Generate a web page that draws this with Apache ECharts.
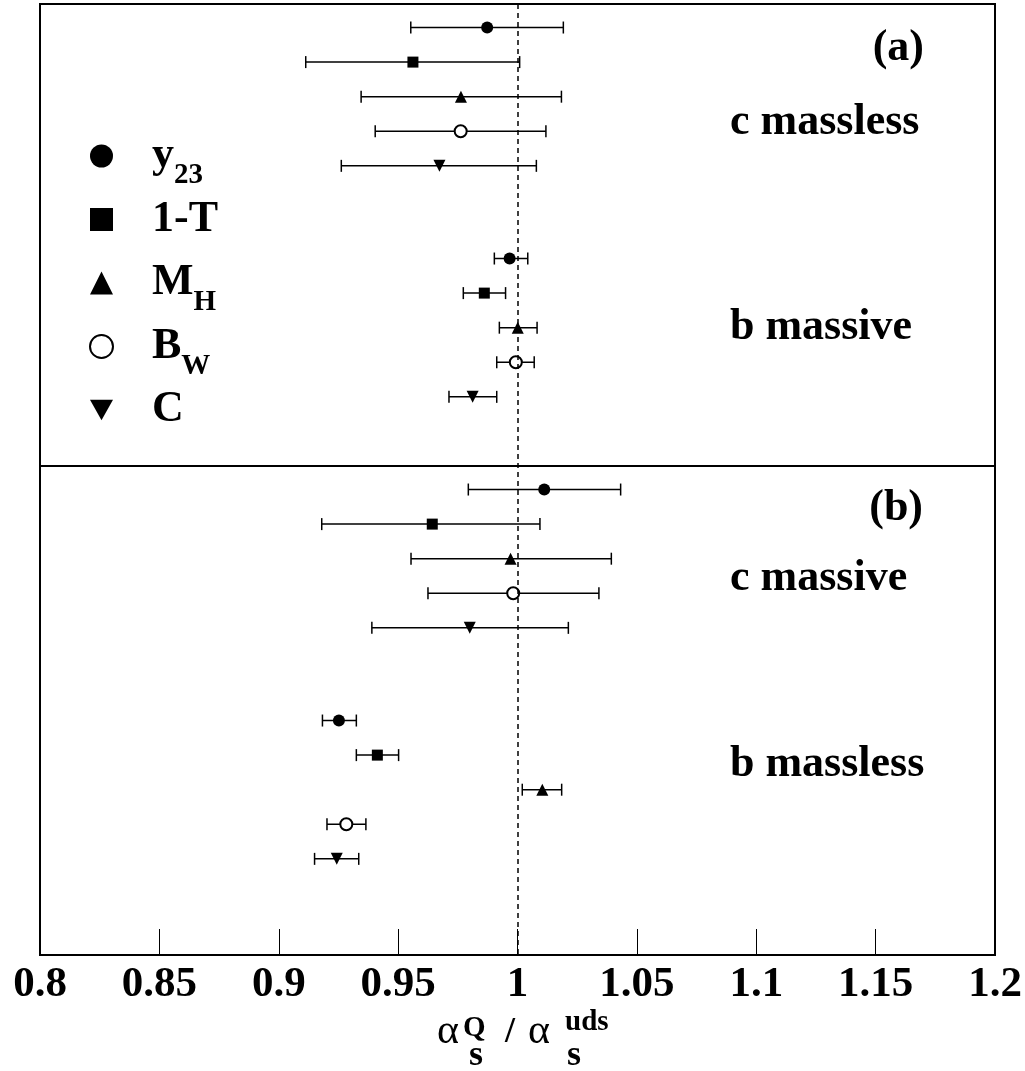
<!DOCTYPE html>
<html>
<head>
<meta charset="utf-8">
<script src="https://cdn.jsdelivr.net/npm/echarts@6/dist/echarts.min.js"></script>
<style>
  html, body { margin: 0; padding: 0; background: #fff; }
  #chart { width: 1025px; height: 1071px; }
</style>
</head>
<body>
<div id="chart"></div>
<script>
// methods, top to bottom inside every group
const methods = ['y23', '1-T', 'M_H', 'B_W', 'C'];
// groups, top to bottom: (a) c massless, (a) b massive, (b) c massive, (b) b massless
const groups = ['c massless', 'b massive', 'c massive', 'b massless'];

// central values, one per group
const y23Val = [0.9873, 0.9967, 1.0112, 0.9252];
const oneTVal = [0.9562, 0.9861, 0.9643, 0.9413];
const mhVal = [0.9763, 1.0001, 0.9971, 1.0104];
const bwVal = [0.9762, 0.9993, 0.9982, 0.9283];
const cVal = [0.9673, 0.9812, 0.9800, 0.9243];

// lower ends of error bars
const y23Lo = [0.9553, 0.9903, 0.9794, 0.9183];
const oneTLo = [0.9113, 0.9773, 0.9180, 0.9325];
const mhLo = [0.9345, 0.9924, 0.9554, 1.0020];
const bwLo = [0.9404, 0.9913, 0.9625, 0.9202];
const cLo = [0.9262, 0.9713, 0.9390, 0.9150];

// upper ends of error bars
const y23Hi = [1.0192, 1.0043, 1.0432, 0.9325];
const oneTHi = [1.0009, 0.9950, 1.0094, 0.9502];
const mhHi = [1.0184, 1.0082, 1.0393, 1.0185];
const bwHi = [1.0119, 1.0070, 1.0341, 0.9365];
const cHi = [1.0079, 0.9913, 1.0213, 0.9335];

const xTicks = [0.8, 0.85, 0.9, 0.95, 1, 1.05, 1.1, 1.15, 1.2];

const vals = [y23Val, oneTVal, mhVal, bwVal, cVal];
const los = [y23Lo, oneTLo, mhLo, bwLo, cLo];
const his = [y23Hi, oneTHi, mhHi, bwHi, cHi];
const symbols = ['circle', 'rect', 'triangle', 'emptyCircle', 'triangle'];
const rotates = [0, 0, 0, 0, 180];
const sizes = [12, 11, 12, 12, 12];

// row position on the (hidden) y axis
const groupStep = 6.68;
const firstRow = 0.68;
function rowPos(g, m) { return firstRow + g * groupStep + m; }

const FONT = '"Liberation Serif", "Times New Roman", serif';

const errData = [];
methods.forEach((m, mi) => {
  groups.forEach((g, gi) => {
    errData.push([los[mi][gi], his[mi][gi], rowPos(gi, mi)]);
  });
});

function renderErr(params, api) {
  const a = api.coord([api.value(0), api.value(2)]);
  const b = api.coord([api.value(1), api.value(2)]);
  const h = 6;
  const st = { stroke: '#000', lineWidth: 1.5 };
  return {
    type: 'group',
    children: [
      { type: 'line', shape: { x1: a[0], y1: a[1], x2: b[0], y2: b[1] }, style: st },
      { type: 'line', shape: { x1: a[0], y1: a[1] - h, x2: a[0], y2: a[1] + h }, style: st },
      { type: 'line', shape: { x1: b[0], y1: b[1] - h, x2: b[0], y2: b[1] + h }, style: st }
    ]
  };
}

const series = [{
  type: 'custom',
  name: 'err',
  renderItem: renderErr,
  data: errData,
  encode: { x: [0, 1], y: 2 },
  silent: true,
  z: 1,
  markLine: {
    silent: true,
    symbol: 'none',
    label: { show: false },
    data: [
      { xAxis: 1, lineStyle: { type: [5, 4], width: 1.5, color: '#000' } },
      { yAxis: 2 * groupStep, lineStyle: { type: 'solid', width: 2, color: '#000' } }
    ]
  }
}];

methods.forEach((m, mi) => {
  series.push({
    type: 'scatter',
    name: m,
    symbol: symbols[mi],
    symbolRotate: rotates[mi],
    symbolSize: sizes[mi],
    itemStyle: { color: '#000', borderColor: '#000', borderWidth: mi === 3 ? 1.5 : 0, opacity: 1 },
    z: 3,
    data: groups.map((g, gi) => [vals[mi][gi], rowPos(gi, mi)])
  });
});

const legendText = {
  'y23': '{m|y}{s|23}',
  '1-T': '{m|1-T}',
  'M_H': '{m|M}{s|H}',
  'B_W': '{m|B}{s|W}',
  'C': '{m|C}'
};

const legendData = methods.map((m, mi) => mi === 4
  ? { name: m, icon: 'path://M0,0 L10,0 L5,9 Z' }
  : { name: m });

const chart = echarts.init(document.getElementById('chart'));
chart.setOption({
  animation: false,
  backgroundColor: '#fff',
  grid: {
    left: 40, right: 30, top: 4, bottom: 116,
    show: true, borderColor: '#000', borderWidth: 2, backgroundColor: 'transparent'
  },
  xAxis: {
    type: 'value',
    min: 0.8, max: 1.2, interval: 0.05,
    axisLine: { show: true, onZero: false, lineStyle: { color: '#000', width: 2 } },
    axisTick: { show: true, inside: true, length: 26, lineStyle: { color: '#000', width: 1 } },
    splitLine: { show: false },
    axisLabel: {
      color: '#000', fontFamily: FONT, fontWeight: 'bold', fontSize: 43, margin: 8,
      formatter: v => String(xTicks.find(t => Math.abs(t - v) < 1e-9) ?? v)
    }
  },
  yAxis: {
    type: 'value', min: 0, max: 27.5, inverse: true, show: false
  },
  legend: {
    data: legendData,
    orient: 'vertical',
    left: 84, top: 116,
    itemWidth: 23, itemHeight: 23, itemGap: -6.5,
    selectedMode: false,
    formatter: name => legendText[name],
    itemStyle: { opacity: 1 },
    textStyle: {
      color: '#000',
      rich: {
        m: { fontFamily: FONT, fontWeight: 'bold', fontSize: 44, lineHeight: 44, padding: [13, 0, 13, 34], color: '#000' },
        s: { fontFamily: FONT, fontWeight: 'bold', fontSize: 29, lineHeight: 29, padding: [40, 0, 0, 0], color: '#000' }
      }
    }
  },
  graphic: [
    { type: 'text', right: 1025 - 924, top: 49 - 22, style: { text: '(a)', font: 'bold 44px ' + FONT, fill: '#000' } },
    { type: 'text', x: 730, y: 123, style: { text: 'c massless', font: 'bold 44px ' + FONT, fill: '#000', verticalAlign: 'middle' } },
    { type: 'text', x: 730, y: 328, style: { text: 'b massive', font: 'bold 44px ' + FONT, fill: '#000', verticalAlign: 'middle' } },
    { type: 'text', right: 1025 - 923, top: 509 - 22, style: { text: '(b)', font: 'bold 44px ' + FONT, fill: '#000' } },
    { type: 'text', x: 730, y: 579, style: { text: 'c massive', font: 'bold 44px ' + FONT, fill: '#000', verticalAlign: 'middle' } },
    { type: 'text', x: 730, y: 765, style: { text: 'b massless', font: 'bold 44px ' + FONT, fill: '#000', verticalAlign: 'middle' } },
    // axis title: alpha_s^Q / alpha_s^uds
    { type: 'text', x: 437, y: 1032, style: { text: 'α', font: '42px ' + FONT, fill: '#000', verticalAlign: 'middle' } },
    { type: 'text', x: 463, y: 1029, style: { text: 'Q', font: 'bold 29px ' + FONT, fill: '#000', verticalAlign: 'middle' } },
    { type: 'text', x: 469, y: 1056, style: { text: 's', font: 'bold 36px ' + FONT, fill: '#000', verticalAlign: 'middle' } },
    { type: 'text', x: 505, y: 1033, style: { text: '/', font: 'bold 36px ' + FONT, fill: '#000', verticalAlign: 'middle' } },
    { type: 'text', x: 528, y: 1032, style: { text: 'α', font: '42px ' + FONT, fill: '#000', verticalAlign: 'middle' } },
    { type: 'text', x: 565, y: 1023, style: { text: 'uds', font: 'bold 29px ' + FONT, fill: '#000', verticalAlign: 'middle' } },
    { type: 'text', x: 567, y: 1056, style: { text: 's', font: 'bold 36px ' + FONT, fill: '#000', verticalAlign: 'middle' } }
  ],
  series: series
});
</script>
</body>
</html>
